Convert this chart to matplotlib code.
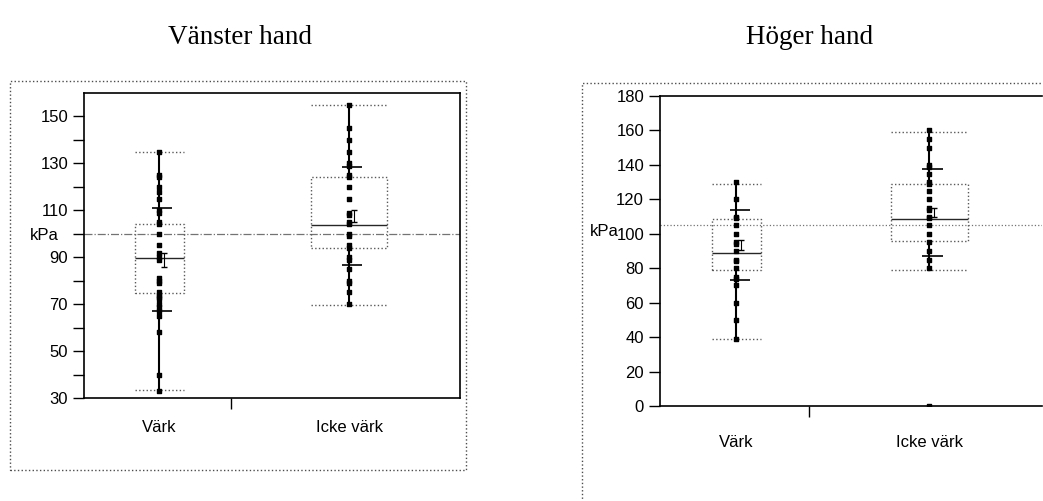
import matplotlib
matplotlib.use("Agg")
import matplotlib.pyplot as plt
from matplotlib.patches import Rectangle

plt.rcParams['font.family'] = ['Liberation Sans', 'DejaVu Sans']

# ---- data ----
categories = ["Värk", "Icke värk"]

# Vänster hand
left_vark = [135, 125, 124, 120, 118, 115, 110, 109, 105, 104, 100, 95, 92, 90, 89,
             81, 80, 79, 75, 74, 73, 72, 70, 69, 67, 65, 58, 40, 33]
left_icke = [155, 145, 140, 135, 130, 129, 125, 124, 120, 115, 109, 108, 105, 104,
             100, 99, 95, 94, 90, 89, 85, 80, 79, 75, 70]
# whislo, q1, med, q3, whishi
left_box_vark = [33.4, 74.8, 89.8, 104.2, 134.8]
left_box_icke = [69.5, 94.0, 103.8, 124.1, 155.0]
left_mean = [88.9, 107.6]
left_sd = [22.0, 20.8]
left_sem = [3.0, 2.5]
left_grand_mean = 100

# Höger hand
right_vark = [130, 120, 110, 109, 105, 100, 95, 94, 90, 85, 84, 80, 75, 74, 70, 60, 50, 39]
right_icke = [160, 155, 150, 140, 139, 135, 130, 129, 125, 120, 115, 114, 110, 109,
              105, 100, 95, 90, 85, 80, 0]
right_box_vark = [39.0, 79.2, 88.8, 108.8, 129.1]
right_box_icke = [78.8, 95.6, 108.8, 128.7, 159.1]
right_mean = [93.4, 112.5]
right_sd = [20.4, 25.3]
right_sem = [3.0, 2.5]
right_grand_mean = 105.3

# group positions (JMP scales group width by n)
positions = [0.20, 0.705]
box_widths = [0.13, 0.20]
divider = 0.39


def make_stats(box):
    return dict(whislo=box[0], q1=box[1], med=box[2], q3=box[3], whishi=box[4], fliers=[])


def draw_panel(ax, points, boxes, means, sds, sems, grand, gm_style):
    stats = [make_stats(b) for b in boxes]
    ax.bxp(stats, positions=positions, widths=box_widths, showfliers=False,
           boxprops=dict(linestyle=':', color='0.35', lw=1.0),
           medianprops=dict(linestyle='-', color='0.15', lw=1.0),
           whiskerprops=dict(linestyle='-', color='black', lw=1.5),
           capprops=dict(linestyle=':', color='0.35', lw=1.0),
           capwidths=box_widths, manage_ticks=False)
    for pos, pts in zip(positions, points):
        ax.scatter([pos] * len(pts), pts, marker='s', s=8, color='black', zorder=4)
    # mean +- sd lines and sem bars
    for pos, m, sd, se in zip(positions, means, sds, sems):
        ax.hlines([m - sd, m + sd], pos - 0.018, pos + 0.035, color='black', lw=1.2, zorder=5)
        ax.errorbar([pos + 0.012], [m], yerr=[se], fmt='none', ecolor='black',
                    elinewidth=0.8, capsize=2.5, zorder=5)
    ax.axhline(grand, color='0.45', lw=0.9, linestyle=gm_style, zorder=1)
    ax.set_xlim(0, 1)
    ax.set_xticks(positions)
    ax.set_xticklabels(categories)
    ax.set_xticks([divider], minor=True)
    ax.tick_params(axis='x', which='major', length=0, labelsize=12)
    ax.tick_params(axis='x', which='minor', length=8, width=1, direction='out')
    ax.tick_params(axis='y', which='both', length=8, width=1, labelsize=12)
    for s in ax.spines.values():
        s.set_linewidth(1.2)


fig = plt.figure(figsize=(10.43, 5.01), dpi=100)
W, H = 1043, 501


def fig_rect(x0, y0, x1, y1):
    return [x0 / W, 1 - y1 / H, (x1 - x0) / W, (y1 - y0) / H]


# outer dotted frames
fig.patches.append(Rectangle((10 / W, 1 - 470 / H), 456 / W, 389 / H, transform=fig.transFigure,
                             fill=False, ls=':', lw=1.0, ec='0.3'))
fig.patches.append(Rectangle((582 / W, 1 - 520 / H), 480 / W, 437 / H, transform=fig.transFigure,
                             fill=False, ls=':', lw=1.0, ec='0.3'))

# left panel
ax1 = fig.add_axes(fig_rect(84, 93, 460, 398))
draw_panel(ax1, [left_vark, left_icke], [left_box_vark, left_box_icke],
           left_mean, left_sd, left_sem, left_grand_mean, '-.')
ax1.set_ylim(30, 160)
ax1.set_yticks([30, 50, 70, 90, 110, 130, 150])
ax1.set_yticks([40, 60, 80, 100, 120, 140], minor=True)
ax1.tick_params(axis='x', which='major', pad=16)
fig.text(30 / W, 1 - 236 / H, "kPa", fontsize=12, va='center', ha='left')
fig.text(240 / W, 1 - 37 / H, "Vänster hand", fontsize=19.5, family='Liberation Serif',
         ha='center', va='center')

# right panel
ax2 = fig.add_axes(fig_rect(660, 96, 1042, 406))
draw_panel(ax2, [right_vark, right_icke], [right_box_vark, right_box_icke],
           right_mean, right_sd, right_sem, right_grand_mean, ':')
ax2.set_ylim(0, 180)
ax2.set_yticks(range(0, 181, 20))
ax2.spines['right'].set_visible(False)
ax2.tick_params(axis='x', which='major', pad=21)
fig.text(590 / W, 1 - 231 / H, "kPa", fontsize=12, va='center', ha='left')
fig.text(810 / W, 1 - 37 / H, "Höger hand", fontsize=19.5, family='Liberation Serif',
         ha='center', va='center')

fig.savefig("out.png", dpi=100)
